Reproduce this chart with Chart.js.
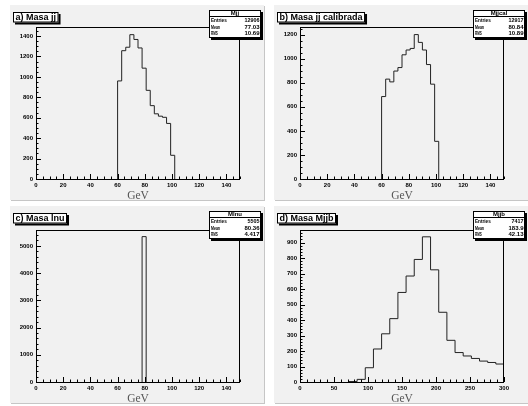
<!DOCTYPE html>
<html>
<head>
<meta charset="utf-8">
<script src="https://cdn.jsdelivr.net/npm/chart.js@4.4.0/dist/chart.umd.min.js"></script>
<style>
  html, body { margin: 0; padding: 0; background: #fff; }
  body { width: 528px; height: 406px; position: relative; overflow: hidden; }
  .pad { position: absolute; background: #f1f1f1; box-shadow: 1px 1px 0 #c6c6c6; }
  .pad canvas { position: absolute; left: 0; top: 0; }
</style>
</head>
<body>
<div class="pad" style="left:10px;top:5px;width:254px;height:195px"><canvas id="cA" width="254" height="195"></canvas></div>
<div class="pad" style="left:274px;top:5px;width:254px;height:195px"><canvas id="cB" width="254" height="195"></canvas></div>
<div class="pad" style="left:10px;top:206px;width:254px;height:197px"><canvas id="cC" width="254" height="197"></canvas></div>
<div class="pad" style="left:274px;top:206px;width:254px;height:197px"><canvas id="cD" width="254" height="197"></canvas></div>
<script>
const masaJJStart = 60, masaJJWidth = 3;
const masaJJ = [960, 1256, 1290, 1413, 1366, 1283, 1085, 868, 718, 638, 615, 604, 544, 232];

const masaJJCalStart = 60, masaJJCalWidth = 3;
const masaJJCal = [685, 830, 807, 897, 926, 1032, 1072, 1085, 1200, 1135, 1072, 951, 788, 313];

const masaLnuStart = 78, masaLnuWidth = 3;
const masaLnu = [5340];

const masaJJBStart = 72, masaJJBWidth = 12;
const masaJJB = [3, 17, 92, 213, 311, 409, 578, 684, 791, 937, 724, 450, 269, 190, 168, 152, 135, 126, 116];

// ticks
const xTicks150 = [0, 20, 40, 60, 80, 100, 120, 140];
const xTicks300 = [0, 50, 100, 150, 200, 250, 300];
const yTicksA = [0, 200, 400, 600, 800, 1000, 1200, 1400];
const yTicksB = [0, 200, 400, 600, 800, 1000, 1200];
const yTicksC = [0, 1000, 2000, 3000, 4000, 5000];
const yTicksD = [0, 100, 200, 300, 400, 500, 600, 700, 800, 900];

// cajas de estadistica
const statLabels = ['Entries', 'Mean', 'RMS'];
const statsA = ['12906', '77.03', '10.69'];
const statsB = ['12917', '80.84', '10.89'];
const statsC = ['5505', '80.36', '4.417'];
const statsD = ['7417', '183.9', '42.13'];

const FONT = 'Liberation Sans, Arial, Helvetica, sans-serif';

function histPoints(start, width, counts) {
  const pts = [{x: start, y: 0}];
  counts.forEach((c, i) => pts.push({x: start + i * width, y: c}));
  pts.push({x: start + counts.length * width, y: 0});
  return pts;
}

// marco, ticks interiores, titulo y caja de estadistica al estilo ROOT
const rootPad = {
  id: 'rootPad',
  afterDraw(chart) {
    const o = chart.options.plugins.rootPad;
    const ctx = chart.ctx, a = chart.chartArea;
    const xs = chart.scales.x, ys = chart.scales.y;
    ctx.save();
    ctx.strokeStyle = '#000';
    ctx.lineWidth = 1;
    ctx.strokeRect(a.left + 0.5, a.top + 0.5, a.right - a.left - 1, a.bottom - a.top);

    ctx.beginPath();
    for (let v = xs.min; v <= xs.max + 1e-6; v += o.xMinor) {
      const px = Math.round(xs.getPixelForValue(v)) + 0.5;
      const len = o.xTicks.includes(v) ? 5 : 2.5;
      ctx.moveTo(px, a.bottom);
      ctx.lineTo(px, a.bottom - len);
    }
    for (let v = ys.min; v <= ys.max + 1e-6; v += o.yMinor) {
      const py = Math.round(ys.getPixelForValue(v)) + 0.5;
      const len = o.yTicks.includes(v) ? 5 : 2.5;
      ctx.moveTo(a.left, py);
      ctx.lineTo(a.left + len, py);
    }
    ctx.stroke();

    // GeV
    ctx.fillStyle = '#555';
    ctx.font = '11.5px "Liberation Serif", "Times New Roman", serif';
    ctx.textAlign = 'center';
    ctx.textBaseline = 'alphabetic';
    ctx.fillText('GeV', (a.left + a.right) / 2, a.bottom + 19.5);

    // titulo
    ctx.font = 'bold 9px ' + FONT;
    ctx.textAlign = 'left';
    const tw = ctx.measureText(o.title).width;
    const tx = 3, ty = 7, th = 10.5, tbw = tw + 5;
    ctx.fillStyle = '#000';
    ctx.fillRect(tx + 2, ty + 2, tbw, th);
    ctx.fillStyle = '#fff';
    ctx.fillRect(tx, ty, tbw, th);
    ctx.strokeRect(tx + 0.5, ty + 0.5, tbw - 1, th - 1);
    ctx.fillStyle = '#000';
    ctx.fillText(o.title, tx + 2.5, ty + 8);

    // estadistica
    const bx = 199, by = 5, bw = 52, bh = 28;
    ctx.fillStyle = '#000';
    ctx.fillRect(bx + 2, by + 2, bw, bh);
    ctx.fillStyle = '#fff';
    ctx.fillRect(bx, by, bw, bh);
    ctx.strokeRect(bx + 0.5, by + 0.5, bw - 1, bh - 1);
    ctx.beginPath();
    ctx.moveTo(bx, by + 6.5);
    ctx.lineTo(bx + bw, by + 6.5);
    ctx.stroke();
    ctx.fillStyle = '#000';
    ctx.font = 'bold 6px ' + FONT;
    ctx.textAlign = 'center';
    ctx.fillText(o.name, bx + bw / 2, by + 5.3);
    statLabels.forEach((lab, i) => {
      const yb = by + 12.2 + i * 6.5;
      ctx.textAlign = 'left';
      ctx.fillText(lab, bx + 2, yb, lab.length * 2.25);
      ctx.textAlign = 'right';
      ctx.fillText(o.stats[i], bx + bw - 1.5, yb, o.stats[i].length * 3);
    });
    ctx.restore();
  }
};

function makeHist(id, cfg) {
  const padH = document.getElementById(id).height;
  new Chart(document.getElementById(id), {
    type: 'line',
    data: {
      datasets: [{
        data: histPoints(cfg.start, cfg.width, cfg.counts),
        stepped: 'before',
        borderColor: '#222',
        borderWidth: 1,
        pointRadius: 0,
        fill: false
      }]
    },
    options: {
      responsive: false,
      animation: false,
      events: [],
      layout: { padding: { left: 0, top: cfg.top, right: 24, bottom: 0 } },
      plugins: {
        legend: { display: false },
        tooltip: { enabled: false },
        rootPad: {
          title: cfg.title, name: cfg.name, stats: cfg.stats,
          xTicks: cfg.xTicks, yTicks: cfg.yTicks, xMinor: cfg.xMinor, yMinor: cfg.yMinor
        }
      },
      scales: {
        x: {
          type: 'linear', min: 0, max: cfg.xMax,
          grid: { display: false, drawTicks: false }, border: { display: false },
          afterBuildTicks: s => { s.ticks = cfg.xTicks.map(v => ({value: v})); },
          afterFit: s => { s.height = padH - cfg.top - 152; },
          ticks: { autoSkip: false, maxRotation: 0, padding: 3, color: '#000',
                   font: { family: FONT, size: 6, weight: 'bold' }, callback: v => String(v) }
        },
        y: {
          type: 'linear', min: 0, max: cfg.yMax,
          grid: { display: false, drawTicks: false }, border: { display: false },
          afterBuildTicks: s => { s.ticks = cfg.yTicks.map(v => ({value: v})); },
          afterFit: s => { s.width = 26; },
          ticks: { autoSkip: false, padding: 3, color: '#000',
                   font: { family: FONT, size: 6, weight: 'bold' }, callback: v => String(v) }
        }
      }
    },
    plugins: [rootPad]
  });
}

makeHist('cA', { start: masaJJStart, width: masaJJWidth, counts: masaJJ, top: 22,
  xMax: 150, yMax: 1488, xTicks: xTicks150, yTicks: yTicksA, xMinor: 5, yMinor: 50,
  title: 'a) Masa jj', name: 'Mjj', stats: statsA });
makeHist('cB', { start: masaJJCalStart, width: masaJJCalWidth, counts: masaJJCal, top: 22,
  xMax: 150, yMax: 1263, xTicks: xTicks150, yTicks: yTicksB, xMinor: 5, yMinor: 50,
  title: 'b) Masa jj calibrada', name: 'Mjjcal', stats: statsB });
makeHist('cC', { start: masaLnuStart, width: masaLnuWidth, counts: masaLnu, top: 24,
  xMax: 150, yMax: 5583, xTicks: xTicks150, yTicks: yTicksC, xMinor: 5, yMinor: 200,
  title: 'c) Masa lnu', name: 'Mlnu', stats: statsC });
makeHist('cD', { start: masaJJBStart, width: masaJJBWidth, counts: masaJJB, top: 24,
  xMax: 300, yMax: 981, xTicks: xTicks300, yTicks: yTicksD, xMinor: 10, yMinor: 20,
  title: 'd) Masa Mjjb', name: 'Mjjb', stats: statsD });
</script>
</body>
</html>
